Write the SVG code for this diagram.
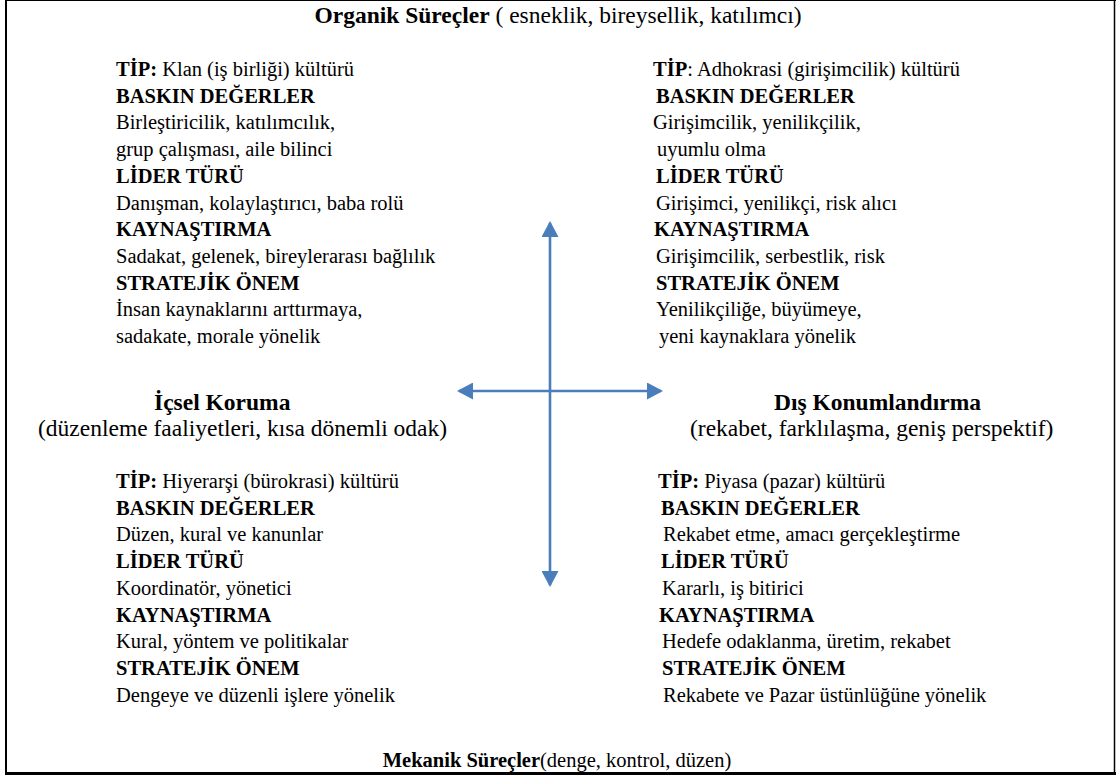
<svg xmlns="http://www.w3.org/2000/svg" width="1116" height="778" viewBox="0 0 1116 778">
<style>
text{font-family:"Liberation Serif","Times New Roman",serif;font-size:20.5px;fill:#000}
.b{font-weight:bold}
.big{font-size:23.5px}
.ax{stroke:#4a7ebb;stroke-width:2.6;fill:none}
.frame{stroke:#000;fill:none}
</style>
<defs>
<marker id="ah" viewBox="0 0 16 17" refX="14" refY="8.5" markerWidth="16" markerHeight="17" markerUnits="userSpaceOnUse" orient="auto-start-reverse">
<path d="M0,0 L16,8.5 L0,17 Z" fill="#4a7ebb"/>
</marker>
</defs>
<g id="frame">
<line class="frame" x1="6" y1="0" x2="6" y2="775" stroke-width="2"/>
<line class="frame" x1="5" y1="0.5" x2="1116" y2="0.5" stroke-width="1"/>
<line class="frame" x1="1114.5" y1="0" x2="1114.5" y2="775" stroke-width="1.5"/>
<line class="frame" x1="5" y1="773.5" x2="1116" y2="773.5" stroke-width="3"/>
</g>
<g id="connectors">
<line class="ax" x1="550" y1="223" x2="550" y2="585" marker-start="url(#ah)" marker-end="url(#ah)"/>
<line class="ax" x1="459" y1="391" x2="661" y2="391" marker-start="url(#ah)" marker-end="url(#ah)"/>
</g>
<g id="top-title">
<text class="big" x="558" y="23" text-anchor="middle"><tspan class="b">Organik Süreçler</tspan> ( esneklik, bireysellik, katılımcı)</text>
</g>
<g id="bottom-title">
<text x="557" y="767" text-anchor="middle"><tspan class="b">Mekanik Süreçler</tspan>(denge, kontrol, düzen)</text>
</g>
<g id="clan">
<text x="116" y="76"><tspan class="b">TİP:</tspan> Klan (iş birliği) kültürü</text>
<text x="116" y="102.7" class="b">BASKIN DEĞERLER</text>
<text x="116" y="129.4">Birleştiricilik, katılımcılık,</text>
<text x="116" y="156.1">grup çalışması, aile bilinci</text>
<text x="116" y="182.8" class="b">LİDER TÜRÜ</text>
<text x="116" y="209.5">Danışman, kolaylaştırıcı, baba rolü</text>
<text x="116" y="236.2" class="b">KAYNAŞTIRMA</text>
<text x="116" y="262.9">Sadakat, gelenek, bireylerarası bağlılık</text>
<text x="116" y="289.6" class="b">STRATEJİK ÖNEM</text>
<text x="116" y="316.3">İnsan kaynaklarını arttırmaya,</text>
<text x="116" y="343">sadakate, morale yönelik</text>
</g>
<g id="adhocracy">
<text x="653" y="76"><tspan class="b">TİP</tspan>: Adhokrasi (girişimcilik) kültürü</text>
<text x="656" y="102.7" class="b">BASKIN DEĞERLER</text>
<text x="653" y="129.4">Girişimcilik, yenilikçilik,</text>
<text x="657" y="156.1">uyumlu olma</text>
<text x="656" y="182.8" class="b">LİDER TÜRÜ</text>
<text x="656" y="209.5">Girişimci, yenilikçi, risk alıcı</text>
<text x="654" y="236.2" class="b">KAYNAŞTIRMA</text>
<text x="656" y="262.9">Girişimcilik, serbestlik, risk</text>
<text x="656" y="289.6" class="b">STRATEJİK ÖNEM</text>
<text x="656" y="316.3">Yenilikçiliğe, büyümeye,</text>
<text x="659" y="343">yeni kaynaklara yönelik</text>
</g>
<g id="internal">
<text class="big b" x="154" y="410">İçsel Koruma</text>
<text class="big" x="38" y="436">(düzenleme faaliyetleri, kısa dönemli odak)</text>
</g>
<g id="external">
<text class="big b" x="774" y="410">Dış Konumlandırma</text>
<text class="big" x="690" y="436">(rekabet, farklılaşma, geniş perspektif)</text>
</g>
<g id="hierarchy">
<text x="116" y="488"><tspan class="b">TİP:</tspan> Hiyerarşi (bürokrasi) kültürü</text>
<text x="116" y="514.7" class="b">BASKIN DEĞERLER</text>
<text x="116" y="541.4">Düzen, kural ve kanunlar</text>
<text x="116" y="568.1" class="b">LİDER TÜRÜ</text>
<text x="116" y="594.8">Koordinatör, yönetici</text>
<text x="116" y="621.5" class="b">KAYNAŞTIRMA</text>
<text x="116" y="648.2">Kural, yöntem ve politikalar</text>
<text x="116" y="674.9" class="b">STRATEJİK ÖNEM</text>
<text x="116" y="701.6">Dengeye ve düzenli işlere yönelik</text>
</g>
<g id="market">
<text x="658" y="488"><tspan class="b">TİP:</tspan> Piyasa (pazar) kültürü</text>
<text x="661" y="514.7" class="b">BASKIN DEĞERLER</text>
<text x="663" y="541.4">Rekabet etme, amacı gerçekleştirme</text>
<text x="661" y="568.1" class="b">LİDER TÜRÜ</text>
<text x="662" y="594.8">Kararlı, iş bitirici</text>
<text x="659" y="621.5" class="b">KAYNAŞTIRMA</text>
<text x="662" y="648.2">Hedefe odaklanma, üretim, rekabet</text>
<text x="662" y="674.9" class="b">STRATEJİK ÖNEM</text>
<text x="663" y="701.6">Rekabete ve Pazar üstünlüğüne yönelik</text>
</g>
</svg>
